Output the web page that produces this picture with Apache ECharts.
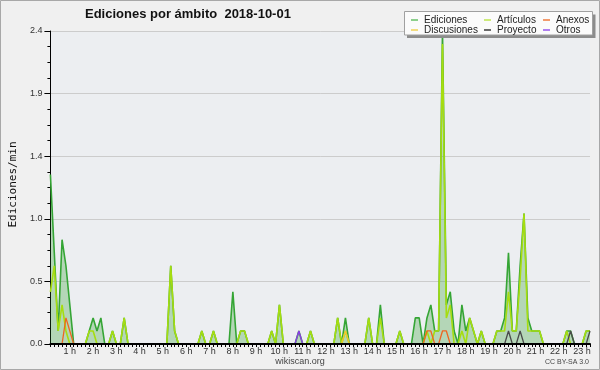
<!DOCTYPE html>
<html><head><meta charset="utf-8">
<script src="https://cdn.jsdelivr.net/npm/echarts@6/dist/echarts.min.js"></script>
<style>html,body{margin:0;padding:0;background:#f0f0f0}#c{width:600px;height:370px}</style>
</head><body><div id="c"></div>
<script>
const chartTitle = 'Ediciones por ámbito  2018-10-01';
const yAxisName = 'Ediciones/min';
const hourLabels = ['', '1 h', '2 h', '3 h', '4 h', '5 h', '6 h', '7 h', '8 h', '9 h', '10 h', '11 h',
  '12 h', '13 h', '14 h', '15 h', '16 h', '17 h', '18 h', '19 h', '20 h', '21 h', '22 h', '23 h'];
const seriesNames = ['Ediciones', 'Artículos', 'Anexos', 'Discusiones', 'Proyecto', 'Otros'];

// 10-minute slots, edits per minute
const ediciones = [
  1.3,0.7,0.1,0.8,0.6,0.3,0,0,0,0,0.1,0.2,
  0.1,0.2,0,0,0.1,0,0,0.2,0,0,0,0,
  0,0,0,0,0,0,0,0.6,0.1,0,0,0,
  0,0,0,0.1,0,0,0.1,0,0,0,0,0.4,
  0,0.1,0.1,0,0,0,0,0,0,0.1,0,0.3,
  0,0,0,0,0.1,0,0,0.1,0,0,0,0,
  0,0,0.2,0,0.2,0,0,0,0,0,0.2,0,
  0,0.3,0,0,0,0,0.1,0,0,0,0.2,0.2,
  0,0.2,0.3,0.1,0.1,2.4,0.3,0.4,0.1,0,0.3,0.1,
  0.2,0.1,0,0.1,0,0,0,0.1,0.1,0.2,0.7,0.1,
  0.1,0.6,1.0,0.2,0.1,0.1,0.1,0,0,0,0,0,
  0,0.1,0.1,0,0,0,0.1,0.1
];
const articulos = [
  0.4,0.6,0.1,0.3,0.1,0,0,0,0,0,0.1,0.1,
  0,0,0,0,0.1,0,0,0.2,0,0,0,0,
  0,0,0,0,0,0,0,0.6,0.1,0,0,0,
  0,0,0,0.1,0,0,0.1,0,0,0,0,0,
  0,0.1,0.1,0,0,0,0,0,0,0.1,0,0.3,
  0,0,0,0,0,0,0,0.1,0,0,0,0,
  0,0,0.2,0,0.1,0,0,0,0,0,0.2,0,
  0,0.2,0,0,0,0,0.1,0,0,0,0,0,
  0,0.1,0,0.1,0.1,2.3,0.2,0.3,0,0,0.1,0,
  0.2,0.1,0,0.1,0,0,0,0.1,0.1,0.1,0.4,0.1,
  0.1,0.5,1.0,0.1,0.1,0.1,0.1,0,0,0,0,0,
  0,0.1,0,0,0,0,0.1,0.1
];
const anexos = [
  0,0,0,0,0.2,0.1,0,0,0,0,0,0,
  0,0,0,0,0,0,0,0,0,0,0,0,
  0,0,0,0,0,0,0,0,0,0,0,0,
  0,0,0,0,0,0,0,0,0,0,0,0,
  0,0,0,0,0,0,0,0,0,0,0,0,
  0,0,0,0,0,0,0,0,0,0,0,0,
  0,0,0,0,0,0,0,0,0,0,0,0,
  0,0,0,0,0,0,0,0,0,0,0,0,
  0,0.1,0.1,0,0,0.1,0.1,0,0,0,0,0,
  0,0,0,0,0,0,0,0,0,0,0,0,
  0,0,0,0,0,0,0,0,0,0,0,0,
  0,0,0,0,0,0,0,0
];
const discusiones = [
  0,0,0,0,0,0,0,0,0,0,0,0,
  0,0,0,0,0,0,0,0,0,0,0,0,
  0,0,0,0,0,0,0,0,0,0,0,0,
  0,0,0,0,0,0,0,0,0,0,0,0,
  0,0,0,0,0,0,0,0,0,0,0,0,
  0,0,0,0,0,0,0,0,0,0,0,0,
  0,0,0,0,0.1,0,0,0,0,0,0,0,
  0,0,0,0,0,0,0,0,0,0,0,0,
  0,0,0,0,0,0,0,0,0,0,0,0,
  0,0,0,0,0,0,0,0,0,0,0,0,
  0,0,0,0,0,0,0,0,0,0,0,0,
  0,0,0,0,0,0,0,0
];
const proyecto = [
  0,0,0,0,0,0,0,0,0,0,0,0,
  0,0,0,0,0,0,0,0,0,0,0,0,
  0,0,0,0,0,0,0,0,0,0,0,0,
  0,0,0,0,0,0,0,0,0,0,0,0,
  0,0,0,0,0,0,0,0,0,0,0,0,
  0,0,0,0,0,0,0,0,0,0,0,0,
  0,0,0,0,0,0,0,0,0,0,0,0,
  0,0,0,0,0,0,0,0,0,0,0,0,
  0,0,0,0,0,0,0,0,0,0,0,0,
  0,0,0,0,0,0,0,0,0,0,0.1,0,
  0,0.1,0,0,0,0,0,0,0,0,0,0,
  0,0,0.1,0,0,0,0,0.1
];
const otros = [
  0,0,0,0,0,0,0,0,0,0,0,0,
  0,0,0,0,0,0,0,0,0,0,0,0,
  0,0,0,0,0,0,0,0,0,0,0,0,
  0,0,0,0,0,0,0,0,0,0,0,0,
  0,0,0,0,0,0,0,0,0,0,0,0,
  0,0,0,0,0.1,0,0,0,0,0,0,0,
  0,0,0,0,0,0,0,0,0,0,0,0,
  0,0,0,0,0,0,0,0,0,0,0,0,
  0,0,0,0,0,0,0,0,0,0,0,0,
  0,0,0,0,0,0,0,0,0,0,0,0,
  0,0,0,0,0,0,0,0,0,0,0,0,
  0,0,0,0,0,0,0,0
];
const seriesValues = [ediciones, articulos, anexos, discusiones, proyecto, otros];
const lineColors = ['#35a535', '#a6dd10', '#ee6622', '#eec830', '#4a4a4a', '#8a3ae8'];
const legendColors = ['#8ccf8c', '#cdeb7a', '#f29a6c', '#f3dc80', '#6a6a6a', '#b07ef0'];

const chart = echarts.init(document.getElementById('c'), null, {renderer: 'canvas'});
const pts = arr => arr.map((v, i) => [i, v]);
const baseFont = 'Liberation Sans';

const series = seriesNames.map((name, k) => ({
  name: name,
  type: 'line',
  data: pts(seriesValues[k]),
  symbol: 'none',
  lineStyle: {color: lineColors[k], width: k < 2 ? 1.6 : 1.3},
  itemStyle: {color: lineColors[k]},
  areaStyle: k === 0 ? {color: 'rgba(60,165,60,0.45)'} : undefined,
  z: 2 + k
}));

function legendCol(names, left) {
  return {
    orient: 'vertical', left: left, top: 10, itemGap: 0,
    itemWidth: 7, itemHeight: 2, icon: 'rect',
    z: 20,
    data: names.map(n => ({name: n, itemStyle: {color: legendColors[seriesNames.indexOf(n)]}})),
    textStyle: {fontFamily: baseFont, fontSize: 10, color: '#222', lineHeight: 10, padding: [0, 0, 0, 1]}
  };
}

const option = {
  animation: false,
  backgroundColor: '#f0f0f0',
  title: {
    text: chartTitle, left: 80, top: 3,
    textStyle: {fontFamily: baseFont, fontWeight: 'bold', fontSize: 13, color: '#111'}
  },
  grid: {left: 47, right: 10, top: 31, bottom: 26, show: true, backgroundColor: '#eceef1', borderWidth: 0},
  legend: [
    legendCol(['Ediciones', 'Discusiones'], 406),
    legendCol(['Artículos', 'Proyecto'], 479),
    legendCol(['Anexos', 'Otros'], 538)
  ],
  graphic: [
    {type: 'rect', z: 10, shape: {x: 407, y: 14.5, width: 188.5, height: 23.5}, style: {fill: '#8c8c8c'}},
    {type: 'rect', z: 11, shape: {x: 404.5, y: 11.5, width: 188, height: 23.5}, style: {fill: '#fbfbfb', stroke: '#a0a0a0', lineWidth: 1}},
    {type: 'text', z: 11, x: 300, y: 361.5, style: {text: 'wikiscan.org', font: '9px "Liberation Sans"', fill: '#444', textAlign: 'center', textVerticalAlign: 'middle'}},
    {type: 'text', z: 11, x: 589, y: 362.5, style: {text: 'CC BY-SA 3.0', font: '7px "Liberation Sans"', fill: '#444', textAlign: 'right', textVerticalAlign: 'middle'}},
    {type: 'rect', z: 30, shape: {x: 0.5, y: 0.5, width: 599, height: 369}, style: {fill: 'none', stroke: '#a8a8a8', lineWidth: 1}}
  ],
  xAxis: {
    type: 'value', min: 0, max: 139, interval: 6, z: 10,
    axisLine: {show: true, lineStyle: {color: '#000', width: 2}},
    axisTick: {show: true, length: 3, lineStyle: {color: '#000', width: 1}},
    minorTick: {show: true, splitNumber: 6, length: 3, lineStyle: {color: '#000', width: 1}},
    axisLabel: {
      formatter: v => hourLabels[Math.round(v / 6)] || '',
      fontFamily: baseFont, fontSize: 9, color: '#333', margin: 3, padding: [0, 8, 0, 0]
    },
    splitLine: {show: false}
  },
  yAxis: {
    type: 'value', min: 0, max: 2.4, interval: 0.48,
    name: yAxisName, nameLocation: 'middle', nameGap: 29,
    nameTextStyle: {fontFamily: 'DejaVu Sans Mono', fontSize: 11, color: '#111', padding: [0, 0, 0, 6]},
    axisLine: {show: true, lineStyle: {color: '#000', width: 1}},
    axisTick: {show: true, length: 6, lineStyle: {color: '#000'}},
    minorTick: {show: true, splitNumber: 4, length: 3, lineStyle: {color: '#000'}},
    axisLabel: {formatter: v => v.toFixed(1), fontFamily: baseFont, fontSize: 9, color: '#333', margin: 8},
    splitLine: {show: true, lineStyle: {color: '#cccccc', width: 1}}
  },
  series: series
};
chart.setOption(option);
</script>
</body></html>
